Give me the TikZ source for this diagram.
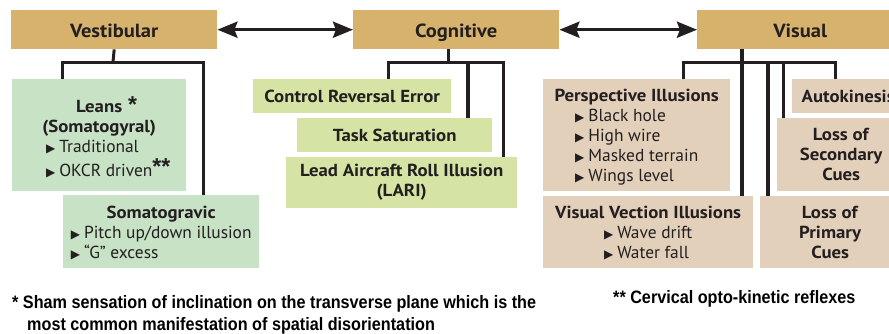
\documentclass[tikz,border=0pt]{standalone}
\usepackage{fontspec}
\setmainfont{PT Sans}[BoldFeatures={FakeStretch=1.08}]
\newfontfamily\symfont{DejaVu Sans}
\newfontfamily\astfont{Liberation Sans}
\newfontfamily\notefont[FakeStretch=0.9]{Liberation Sans}
\usetikzlibrary{arrows.meta}
\definecolor{headtan}{HTML}{D6B26C}
\definecolor{vestgreen}{HTML}{C7E2C4}
\definecolor{coglime}{HTML}{D5E4A5}
\definecolor{visbeige}{HTML}{E3D0BA}
\definecolor{inkdark}{HTML}{231F20}
\newcommand{\tri}{{\symfont\fontsize{12}{10}\selectfont ▶}\hspace{4pt}}
\newcommand{\bigast}[1]{{\astfont\bfseries\fontsize{23}{20}\selectfont #1}}
\newcommand{\topgap}[1]{\rule{0pt}{#1}}

\begin{document}
\begin{tikzpicture}[x=1pt, y=-1pt,
    conn/.style={draw=inkdark, line width=3pt},
    heavy/.style={draw=inkdark, line width=4.5pt},
    twoway/.style={draw=inkdark, line width=3.5pt, {Stealth[length=20pt,width=16pt,inset=3pt]}-{Stealth[length=20pt,width=16pt,inset=3pt]}}]
        \clip (0,0) rectangle (889,333);
        \begin{scope}[every node/.style={fill=headtan, anchor=north west, minimum width=206, minimum height=39, inner sep=0, text height=15, text depth=0, text=inkdark, font=\fontsize{19}{20}\selectfont\bfseries}]
                \node (Vest) at (11,10) {Vestibular};
                \node (Cog) at (353,10) {Cognitive};
                \node (Vis) at (697,10) {Visual};
        \end{scope}
        \begin{scope}[every node/.style={fill=vestgreen, anchor=north west, inner sep=0, align=center, text=inkdark, font=\fontsize{17.4}{20}\selectfont}]
                \node [minimum width=174, minimum height=112] (Leans) at (12,79) {\topgap{24pt}\textbf{Leans}\rlap{\hspace{6pt}\bigast{*}}\\ \textbf{(Somatogyral)}\\ \begin{tabular}[t]{@{}l@{}}\tri Traditional\\ \tri OKCR driven\rlap{\raisebox{2pt}{\bigast{**}}}\end{tabular}};
                \node [minimum width=196, minimum height=73] (Soma) at (63,195) {\topgap{19pt}\textbf{Somatogravic}\\ \begin{tabular}[t]{@{}l@{}}\tri Pitch up/down illusion\\ \tri “G” excess\end{tabular}};
        \end{scope}
        \begin{scope}[every node/.style={fill=coglime, anchor=north west, inner sep=0, align=center, text=inkdark, font=\fontsize{17.4}{20}\selectfont\bfseries}]
                \node [minimum width=198, minimum height=34] (CRE) at (253,79) {Control Reversal Error};
                \node [minimum width=195, minimum height=34] (Task) at (297,118) {Task Saturation};
                \node [minimum width=231, minimum height=51] (LARI) at (286,157) {Lead Aircraft Roll Illusion\\ (LARI)};
        \end{scope}
        \begin{scope}[every node/.style={fill=visbeige, anchor=north west, inner sep=0, align=center, text=inkdark, font=\fontsize{17.4}{20}\selectfont}]
                \node [minimum width=187, minimum height=112] (Persp) at (543,79) {\topgap{19pt}\textbf{Perspective Illusions}\\ \begin{tabular}[t]{@{}l@{}}\tri Black hole\\ \tri High wire\\ \tri Masked terrain\\ \tri Wings level\end{tabular}};
                \node [minimum width=210, minimum height=72] (Vection) at (543,196) {\topgap{19pt}\textbf{Visual Vection Illusions}\\ \begin{tabular}[t]{@{}l@{}}\tri Wave drift\\ \tri Water fall\end{tabular}};
                \node [minimum width=112, minimum height=34] (Auto) at (792,79) {\textbf{Autokinesis}};
                \node [minimum width=128, minimum height=73] (LSC) at (777,118) {\textbf{Loss of}\\ \textbf{Secondary}\\ \textbf{Cues}};
                \node [minimum width=140, minimum height=72] (LPC) at (760,196) {\textbf{Loss of}\\ \textbf{Primary}\\ \textbf{Cues}};
        \end{scope}
        \coordinate (vestbar) at (113,62);
        \coordinate (cogbar) at (448,62);
        \coordinate (visbar) at (742,62);
        \draw [twoway] (Vest.east) -- (Cog.west);
        \draw [twoway] (Cog.east) -- (Vis.west);
        \draw [conn] (Vest.south) -- (vestbar);
        \draw [conn] ([xshift=50]Leans.north west) |- (vestbar) -| ([xshift=140]Soma.north west);
        \draw [conn] ([xshift=95]Cog.south west) -- (cogbar);
        \draw [conn] ([xshift=135]CRE.north west) |- (cogbar) -| ([xshift=217]LARI.north west);
        \draw [heavy] ([xshift=171]Task.north west) -- ++(0,-56);
        \draw [heavy] ([xshift=45]Vis.south west) -- ([xshift=199]Vection.north west);
        \draw [conn] ([xshift=140]Persp.north west) |- (visbar) -| ([xshift=43]Auto.north west);
        \draw [heavy] ([xshift=8]LPC.north west) -- ++(0,-134);
        \draw [conn] ([xshift=6]LSC.north west) -- ++(0,-56);
        \begin{scope}[every node/.style={anchor=base west, inner sep=0, align=left, text=black, font=\notefont\bfseries\fontsize{18}{22}\selectfont}]
                \node (note1) at (12,330) {* Sham sensation of inclination on the transverse plane which is the\\ \hspace{15pt}most common manifestation of spatial disorientation};
                \node (note2) at (613,303) {** Cervical opto-kinetic reflexes};
        \end{scope}
\end{tikzpicture}
\end{document}
